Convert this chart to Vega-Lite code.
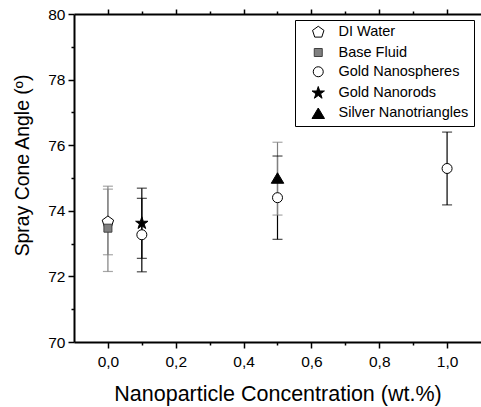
{
  "$schema": "https://vega.github.io/schema/vega-lite/v6.json",
  "width": 407,
  "height": 328,
  "autosize": {"type": "none"},
  "padding": {"left": 74, "top": 14, "right": 0, "bottom": 65},
  "background": "white",
  "config": {
    "view": {"stroke": null},
    "font": "Liberation Sans",
    "axis": {
      "domainColor": "black", "domainWidth": 2, "tickColor": "black", "tickWidth": 1.5,
      "labelColor": "black", "titleColor": "black", "labelFont": "Liberation Sans",
      "titleFont": "Liberation Sans", "labelFontSize": 15.5, "titleFontWeight": "normal", "grid": false
    },
    "legend": {"labelFont": "Liberation Sans"}
  },
  "data": {
    "values": [
      {"series": "DI Water", "x": 0, "y": 73.66, "lo": 72.66, "hi": 74.66},
      {"series": "Base Fluid", "x": 0, "y": 73.47, "lo": 72.15, "hi": 74.75},
      {"series": "Gold Nanospheres", "x": 0.1, "y": 73.27, "lo": 72.14, "hi": 74.38},
      {"series": "Gold Nanorods", "x": 0.1, "y": 73.62, "lo": 72.55, "hi": 74.69},
      {"series": "Gold Nanospheres", "x": 0.5, "y": 74.4, "lo": 73.13, "hi": 75.67},
      {"series": "Gold Nanospheres", "x": 1.0, "y": 75.29, "lo": 74.18, "hi": 76.4},
      {"series": "Silver Nanotriangles", "x": 0.5, "y": 75.0, "lo": 73.87, "hi": 76.09}
    ]
  },
  "resolve": {"axis": {"x": "independent", "y": "independent"}},
  "layer": [
    {
      "mark": {"type": "rule", "strokeWidth": 1.2},
      "encoding": {
        "x": {
          "field": "x", "type": "quantitative",
          "scale": {"domain": [-0.1, 1.1], "nice": false, "zero": false},
          "axis": {
            "orient": "bottom",
            "values": [0, 0.1, 0.2, 0.3, 0.4, 0.5, 0.6, 0.7, 0.8, 0.9, 1.0],
            "labelExpr": "abs(datum.value*5 - round(datum.value*5)) < 0.001 ? replace(format(datum.value, '.1f'), '.', ',') : ''",
            "tickSize": {"condition": {"test": "abs(datum.value*5 - round(datum.value*5)) < 0.001", "value": 6}, "value": 3},
            "labelPadding": 6,
            "title": "Nanoparticle Concentration (wt.%)",
            "titleFontSize": 21.5,
            "titleY": 52,
            "titleBaseline": "middle"
          }
        },
        "y": {
          "field": "lo", "type": "quantitative",
          "scale": {"domain": [70, 80], "nice": false, "zero": false},
          "axis": {
            "values": [70, 71, 72, 73, 74, 75, 76, 77, 78, 79, 80],
            "labelExpr": "datum.value % 2 == 0 ? datum.label : ''",
            "tickSize": {"condition": {"test": "datum.value % 2 == 0", "value": 6}, "value": 3},
            "labelPadding": 3,
            "title": "Spray Cone Angle (º)",
            "titleFontSize": 19.4,
            "titleX": -52,
            "titleY": 151,
            "titleBaseline": "middle",
            "titleAlign": "center"
          }
        },
        "y2": {"field": "hi"},
        "color": {
          "condition": {"test": "datum.series == 'Gold Nanospheres' || datum.series == 'Gold Nanorods'", "value": "#000000"},
          "value": "#808080"
        }
      }
    },
    {
      "mark": {"type": "tick", "orient": "horizontal", "size": 10, "thickness": 1.2},
      "encoding": {
        "x": {
          "field": "x", "type": "quantitative",
          "axis": {
            "orient": "top", "labels": false, "title": null,
            "values": [0, 0.1, 0.2, 0.3, 0.4, 0.5, 0.6, 0.7, 0.8, 0.9, 1.0],
            "tickSize": {"condition": {"test": "abs(datum.value*5 - round(datum.value*5)) < 0.001", "value": 5}, "value": 3}
          }
        },
        "y": {"field": "lo", "type": "quantitative", "axis": null},
        "color": {
          "condition": {"test": "datum.series == 'Gold Nanospheres' || datum.series == 'Gold Nanorods'", "value": "#000000"},
          "value": "#808080"
        }
      }
    },
    {
      "mark": {"type": "tick", "orient": "horizontal", "size": 10, "thickness": 1.2},
      "encoding": {
        "x": {"field": "x", "type": "quantitative", "axis": null},
        "y": {"field": "hi", "type": "quantitative", "axis": null},
        "color": {
          "condition": {"test": "datum.series == 'Gold Nanospheres' || datum.series == 'Gold Nanorods'", "value": "#000000"},
          "value": "#808080"
        }
      }
    },
    {
      "mark": {"type": "point", "filled": true, "strokeWidth": 1, "size": 100, "opacity": 1},
      "encoding": {
        "x": {"field": "x", "type": "quantitative", "axis": null},
        "y": {"field": "y", "type": "quantitative", "axis": null},
        "shape": {
          "field": "series", "type": "nominal",
          "scale": {
            "domain": ["DI Water", "Base Fluid", "Gold Nanospheres", "Gold Nanorods", "Silver Nanotriangles"],
            "range": [
              "M0,-1.2L1.141,-0.371L0.705,0.971L-0.705,0.971L-1.141,-0.371Z",
              "M-0.8,-0.8L0.8,-0.8L0.8,0.8L-0.8,0.8Z",
              "circle",
              "M0,-1.3L0.292,-0.402L1.236,-0.402L0.472,0.153L0.764,1.052L0,0.497L-0.764,1.052L-0.472,0.153L-1.236,-0.402L-0.292,-0.402Z",
              "M0,-1.05L1.25,1.05L-1.25,1.05Z"
            ]
          },
          "legend": {
            "title": null, "orient": "none", "legendX": 221, "legendY": 6,
            "strokeColor": "black", "fillColor": "white", "padding": 5,
            "labelFontSize": 14.5, "labelColor": "black", "symbolSize": 100,
            "symbolOffset": 11, "labelOffset": 13, "rowPadding": 4.25,
            "symbolStrokeWidth": 1
          }
        },
        "fill": {
          "field": "series", "type": "nominal",
          "scale": {
            "domain": ["DI Water", "Base Fluid", "Gold Nanospheres", "Gold Nanorods", "Silver Nanotriangles"],
            "range": ["#ffffff", "#808080", "#ffffff", "#000000", "#000000"]
          },
          "legend": {
            "title": null, "orient": "none", "legendX": 221, "legendY": 6,
            "strokeColor": "black", "fillColor": "white", "padding": 5,
            "labelFontSize": 14.5, "labelColor": "black", "symbolSize": 100,
            "symbolOffset": 11, "labelOffset": 13, "rowPadding": 4.25,
            "symbolStrokeWidth": 1
          }
        },
        "stroke": {
          "field": "series", "type": "nominal",
          "scale": {
            "domain": ["DI Water", "Base Fluid", "Gold Nanospheres", "Gold Nanorods", "Silver Nanotriangles"],
            "range": ["#000000", "#404040", "#000000", "#000000", "#000000"]
          },
          "legend": {
            "title": null, "orient": "none", "legendX": 221, "legendY": 6,
            "strokeColor": "black", "fillColor": "white", "padding": 5,
            "labelFontSize": 14.5, "labelColor": "black", "symbolSize": 100,
            "symbolOffset": 11, "labelOffset": 13, "rowPadding": 4.25,
            "symbolStrokeWidth": 1
          }
        }
      }
    }
  ]
}
